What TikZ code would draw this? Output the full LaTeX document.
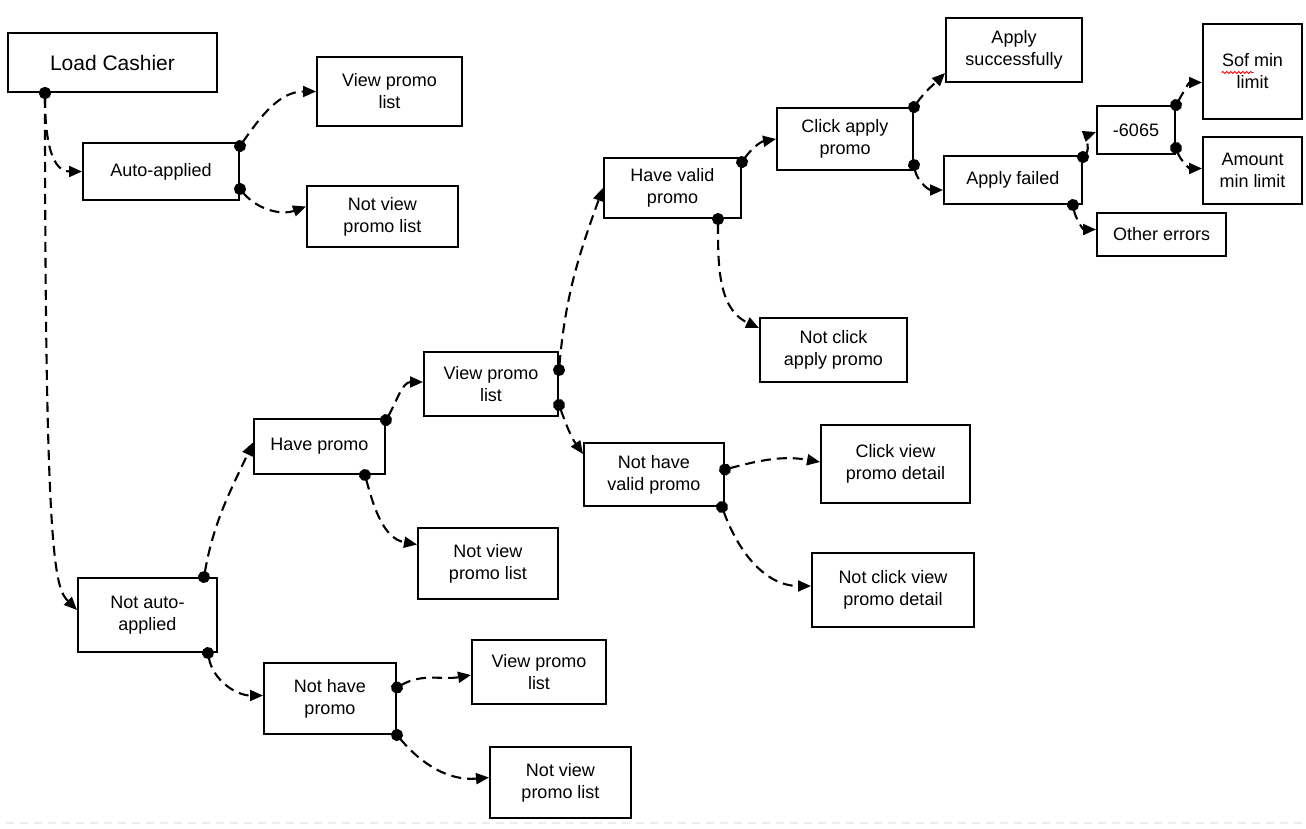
\documentclass[tikz,border=0pt]{standalone}
\usepackage{fontspec}
\setmainfont{Liberation Sans}
\usetikzlibrary{arrows.meta,decorations.pathmorphing}
\tikzset{
  etat/.style={draw, line width=2pt, align=center, inner sep=2pt,
    font=\fontsize{18}{22}\selectfont},
  dim/.style 2 args={minimum width=#1pt, minimum height=#2pt},
  lien/.style={line width=2.1pt, dash pattern=on 10pt off 6pt, shorten <=-6pt,
    {Circle[length=12pt]}-{Triangle[length=13pt,width=11pt]}}
}
\begin{document}
\begin{tikzpicture}[x=1pt,y=1pt]
\useasboundingbox (0,0) rectangle (1306,-828);

% page break of the source sheet
\draw[black!7, line width=2pt, dash pattern=on 8pt off 6pt] (6,-823) -- (1306,-823);

\node[etat, dim={209}{59}, font=\fontsize{21}{25}\selectfont] (cashier) at (112.5,-62.5) {Load Cashier};

\node[etat, dim={156}{57}] (auto) at (161,-171.5) {Auto-applied};
\node[etat, dim={145}{69}] (voirA) at (389.5,-91.5) {View promo\\list};
\node[etat, dim={151}{61}] (pasvoirA) at (382.5,-216.5) {Not view\\promo list};

\node[etat, dim={139}{74}] (notauto) at (147.5,-615) {Not auto-\\applied};
\node[etat, dim={131}{55}] (havepromo) at (319.5,-446.5) {Have promo};
\node[etat, dim={132}{71}] (nothavepromo) at (330,-698.5) {Not have\\promo};
\node[etat, dim={134}{64}] (voirB) at (491,-384) {View promo\\list};
\node[etat, dim={140}{71}] (pasvoirB) at (488,-563.5) {Not view\\promo list};
\node[etat, dim={134}{64}] (voirC) at (539,-672) {View promo\\list};
\node[etat, dim={141}{71}] (pasvoirC) at (560.5,-782.5) {Not view\\promo list};

\node[etat, dim={137}{60}] (valid) at (672.5,-188) {Have valid\\promo};
\node[etat, dim={140}{63}] (notvalid) at (654,-474.5) {Not have\\valid promo};
\node[etat, dim={136}{62}] (clickapply) at (845,-139) {Click apply\\promo};
\node[etat, dim={147}{64}] (notclickapply) at (833.5,-350) {Not click\\apply promo};
\node[etat, dim={149}{78}] (clickdetail) at (895.5,-464) {Click view\\promo detail};
\node[etat, dim={162}{74}] (notclickdetail) at (893,-590) {Not click view\\promo detail};

\node[etat, dim={136}{64}] (applyok) at (1014,-50) {Apply\\successfully};
\node[etat, dim={138}{48}] (applyfail) at (1013,-180) {Apply failed};
\node[etat, dim={78}{48}] (code) at (1136,-130) {-6065};
\node[etat, dim={129}{43}] (othererr) at (1161.5,-234.5) {Other errors};
\node[etat, dim={99}{95}] (sofmin) at (1252.5,-71.5) {Sof min\\limit};
\node[etat, dim={99}{67}] (amountmin) at (1252.5,-170.5) {Amount\\min limit};

% spell check mark
\draw[red, line width=0.8pt, decorate, decoration={snake, amplitude=1pt, segment length=4pt}]
  ([xshift=-31pt,yshift=-1pt]sofmin.center) -- ([xshift=1pt,yshift=-1pt]sofmin.center);

\draw[lien] ([xshift=38pt]cashier.south west) to[out=-90,in=180] (auto.west);
\draw[lien] ([xshift=38pt]cashier.south west) .. controls +(0,-470) and +(-22,22) .. ([yshift=5pt]notauto.west);

\draw[lien] ([yshift=-4pt]auto.north east) to[out=55,in=180] (voirA.west);
\draw[lien] ([yshift=12pt]auto.south east) to[out=-50,in=200] ([yshift=10pt]pasvoirA.west);

\draw[lien] ([xshift=-14pt]notauto.north east) to[out=80,in=245] ([yshift=4pt]havepromo.west);
\draw[lien] ([xshift=-10pt]notauto.south east) to[out=-80,in=180] ([yshift=3pt]nothavepromo.west);

\draw[lien] ([yshift=-2pt]havepromo.north east) to[out=60,in=180] ([yshift=2pt]voirB.west);
\draw[lien] ([xshift=-21pt]havepromo.south east) to[out=-75,in=170] ([yshift=19pt]pasvoirB.west);

\draw[lien] ([yshift=11pt]nothavepromo.east) to[out=30,in=190] ([yshift=-3pt]voirC.west);
\draw[lien] (nothavepromo.south east) to[out=-50,in=185] ([yshift=5pt]pasvoirC.west);

\draw[lien] ([yshift=14pt]voirB.east) to[out=85,in=250] (valid.west);
\draw[lien] ([yshift=-21pt]voirB.east) to[out=-70,in=125] ([yshift=-12pt]notvalid.north west);

\draw[lien] ([yshift=-5pt]valid.north east) to[out=55,in=190] (clickapply.west);
\draw[lien] ([xshift=-24pt]valid.south east) to[out=-90,in=155] ([yshift=22pt]notclickapply.west);

\draw[lien] ([yshift=5pt]notvalid.east) to[out=15,in=170] ([yshift=2pt]clickdetail.west);
\draw[lien] ([xshift=-3pt]notvalid.south east) to[out=-70,in=180] ([yshift=4pt]notclickdetail.west);

\draw[lien] (clickapply.north east) to[out=55,in=225] ([yshift=10pt]applyok.south west);
\draw[lien] ([yshift=6pt]clickapply.south east) to[out=-80,in=180] ([yshift=-10pt]applyfail.west);

\draw[lien] ([yshift=-2pt]applyfail.north east) to[out=50,in=200] ([yshift=-2pt]code.west);
\draw[lien] ([xshift=-10pt]applyfail.south east) to[out=-80,in=180] ([yshift=5pt]othererr.west);

\draw[lien] (code.north east) to[out=60,in=180] ([yshift=-11pt]sofmin.west);
\draw[lien] ([yshift=7pt]code.south east) to[out=-70,in=180] ([yshift=2pt]amountmin.west);

\end{tikzpicture}
\end{document}
